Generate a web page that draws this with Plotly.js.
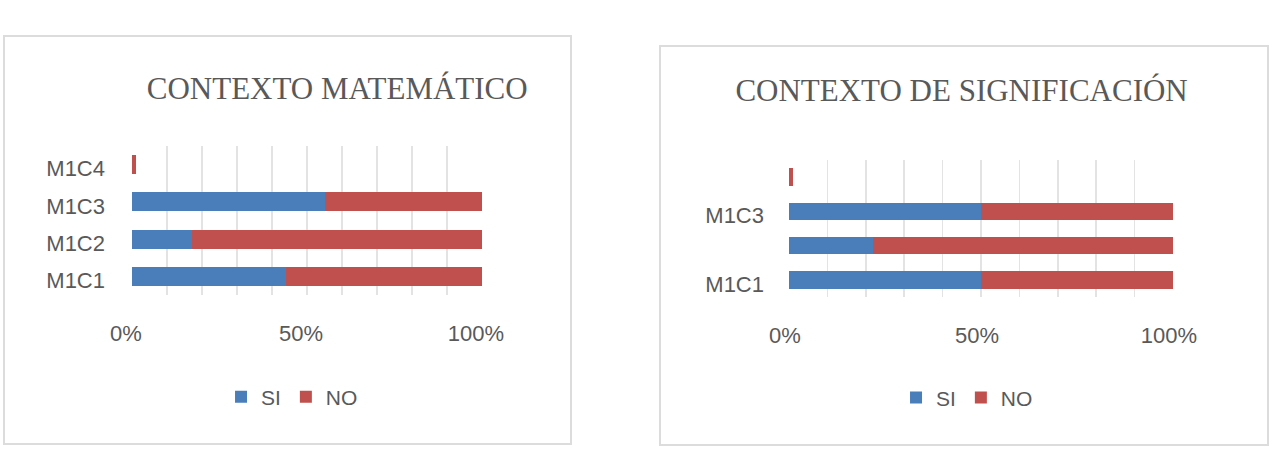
<!DOCTYPE html>
<html>
<head>
<meta charset="utf-8">
<script src="https://cdn.plot.ly/plotly-3.0.1.min.js"></script>
<style>
  html, body { margin: 0; padding: 0; background: #ffffff; width: 1278px; height: 458px; overflow: hidden; }
  .box { position: absolute; border: 2px solid #dcdcdc; background: #ffffff; }
  #chartA { left: 3px; top: 35px; width: 565px; height: 406px; }
  #chartB { left: 659px; top: 45px; width: 606px; height: 397px; }
</style>
</head>
<body>
<div id="chartA" class="box"></div>
<div id="chartB" class="box"></div>
<script>
// ---- data ----
const categories = ['M1C1', 'M1C2', 'M1C3', 'M1C4'];

const matTitle = 'CONTEXTO MATEMÁTICO';
const matSI = [44, 17, 55, 0];
const matNO = [56, 83, 45, 1];
const matLabels = ['M1C1', 'M1C2', 'M1C3', 'M1C4'];

const sigTitle = 'CONTEXTO DE SIGNIFICACIÓN';
const sigSI = [50, 22, 50, 0];
const sigNO = [50, 78, 50, 1];
const sigLabels = ['M1C1', '', 'M1C3', ''];

const seriesNames = ['SI', 'NO'];
const xTickVals = [0, 10, 20, 30, 40, 50, 60, 70, 80, 90, 100];
const xTickText = ['0%', '', '', '', '', '50%', '', '', '', '', '100%'];

// ---- styles ----
const BLUE = '#4a7ebb';
const RED = '#c0504d';
const TXT = '#595959';
const SANS = 'Liberation Sans, Arial, sans-serif';
const SERIF = 'Liberation Serif, Times New Roman, serif';

function makeChart(id, title, si, no, labels, geo) {
  const traces = [
    { type: 'bar', orientation: 'h', name: seriesNames[0], y: categories, x: si,
      marker: { color: BLUE, line: { width: 0 } }, hoverinfo: 'skip' },
    { type: 'bar', orientation: 'h', name: seriesNames[1], y: categories, x: no,
      marker: { color: RED, line: { width: 0 } }, hoverinfo: 'skip' }
  ];
  const layout = {
    width: geo.w, height: geo.h,
    margin: { l: geo.l, r: geo.r, t: geo.t, b: geo.b, pad: 0 },
    paper_bgcolor: '#ffffff', plot_bgcolor: '#ffffff',
    barmode: 'stack', bargap: 0.49,
    title: { text: title, font: { family: SERIF, size: 31, color: TXT },
             xref: 'container', yref: 'container', x: geo.tx, y: geo.ty,
             xanchor: 'center', yanchor: 'middle' },
    xaxis: { range: [0, 100], tickvals: xTickVals, ticktext: xTickText,
             showgrid: true, gridcolor: '#e3e3e3', gridwidth: 1.5,
             zeroline: false, showline: false, ticks: '',
             ticklabelstandoff: geo.xs, ticklabelshift: geo.xsh,
             tickfont: { family: SANS, size: 22, color: TXT }, fixedrange: true },
    yaxis: { type: 'category', tickvals: categories, ticktext: labels,
             showgrid: false, zeroline: false, showline: false, ticks: '',
             ticklabelstandoff: geo.ys, ticklabelshift: 4,
             tickfont: { family: SANS, size: 22, color: TXT }, fixedrange: true },
    showlegend: true,
    legend: { orientation: 'h', xref: 'container', yref: 'container',
              x: geo.lx, y: geo.ly, xanchor: 'center', yanchor: 'middle',
              font: { family: SANS, size: 21, color: TXT },
              traceorder: 'normal', itemwidth: 30, bgcolor: 'rgba(0,0,0,0)' }
  };
  Plotly.newPlot(id, traces, layout, { staticPlot: true, displayModeBar: false });
}

makeChart('chartA', matTitle, matSI, matNO, matLabels,
  { w: 565, h: 406, l: 127, r: 88, t: 109, b: 148,
    tx: 0.588, ty: 0.874, lx: 0.508, ly: 0.113, xs: 23, xsh: -6, ys: 26 });

makeChart('chartB', sigTitle, sigSI, sigNO, sigLabels,
  { w: 606, h: 397, l: 128, r: 94, t: 113, b: 147,
    tx: 0.496, ty: 0.892, lx: 0.505, ly: 0.116, xs: 23, xsh: -4, ys: 24 });
</script>
</body>
</html>
